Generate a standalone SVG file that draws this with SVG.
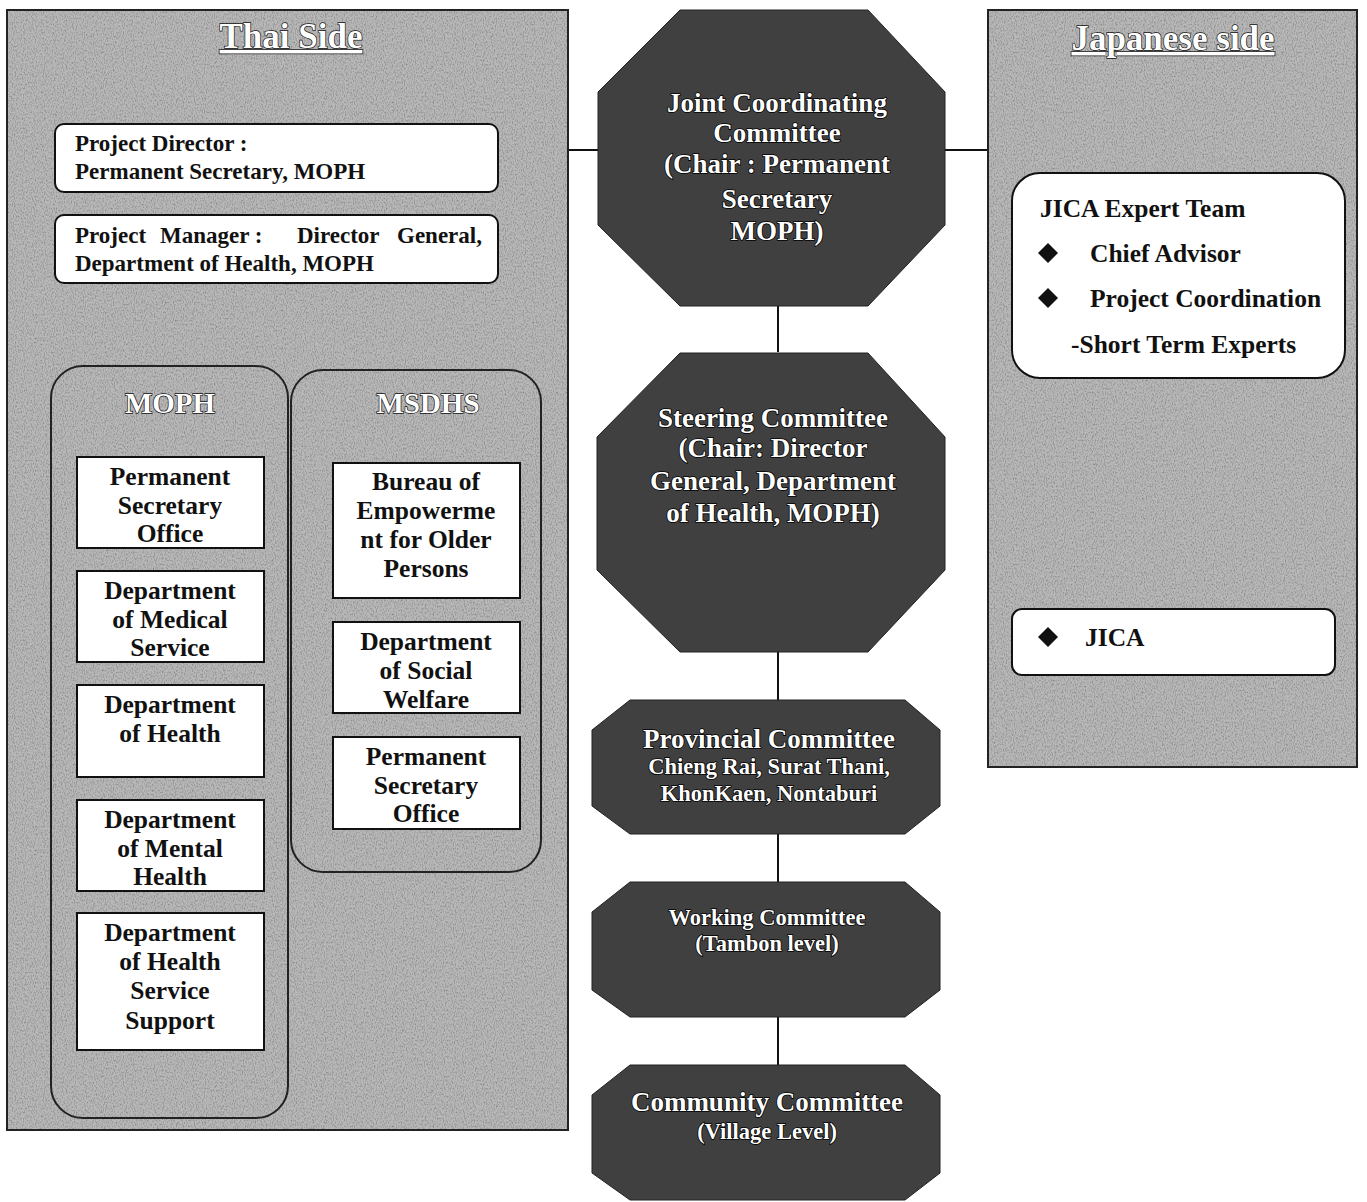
<svg xmlns="http://www.w3.org/2000/svg" width="1367" height="1202" viewBox="0 0 1367 1202">
<defs>
<filter id="grain" x="0" y="0" width="100%" height="100%">
<feTurbulence type="fractalNoise" baseFrequency="0.9 0.5" numOctaves="2" seed="3" result="n"/>
<feColorMatrix in="n" type="matrix" values="0 0 0 0 0  0 0 0 0 0  0 0 0 0 0  0 0 0 -2.2 1.25" result="a"/>
<feComposite in="SourceGraphic" in2="a" operator="in"/>
</filter>
<style>
.panel{fill:#b8b8b8;stroke:#222;stroke-width:2}
.cont{fill:none;stroke:#222;stroke-width:2}
.wbox{fill:#fff;stroke:#111;stroke-width:2}
.oct{fill:#404040;stroke:#222;stroke-width:1}
.t{font-family:"Liberation Serif","Times New Roman",serif;font-weight:bold;fill:#111}
.c{text-anchor:middle}
.b{font-size:25.5px}
.s{font-size:23px}
.title{font-family:"Liberation Serif","Times New Roman",serif;font-weight:bold;font-size:35px;fill:#fff;stroke:#111;stroke-width:1.4;paint-order:stroke;text-anchor:middle;text-decoration:underline}
.lab{font-family:"Liberation Serif","Times New Roman",serif;font-weight:bold;font-size:29px;fill:#fff;stroke:#111;stroke-width:1.4;paint-order:stroke;text-anchor:middle}
.ot{font-family:"Liberation Serif","Times New Roman",serif;font-weight:bold;font-size:27px;fill:#fff;stroke:#000;stroke-width:1.6;paint-order:stroke;text-anchor:middle}
.os{font-size:22.5px}
.line{stroke:#111;stroke-width:2;fill:none}
</style>
</defs>

<g id="connectors">
<line class="line" x1="568" y1="150" x2="600" y2="150"/>
<line class="line" x1="944" y1="150" x2="988" y2="150"/>
<line class="line" x1="778" y1="306" x2="778" y2="352"/>
<line class="line" x1="778" y1="652" x2="778" y2="700"/>
<line class="line" x1="778" y1="834" x2="778" y2="882"/>
<line class="line" x1="778" y1="1017" x2="778" y2="1065"/>
<line class="line" x1="1175" y1="378" x2="1175" y2="609"/>
</g>

<g id="thai-side">
<rect class="panel" x="7" y="10" width="561" height="1120"/>
<rect x="7" y="10" width="561" height="1120" fill="#666" filter="url(#grain)" opacity="0.6"/>
<rect x="7" y="10" width="561" height="1120" fill="none" stroke="#222" stroke-width="2"/>
<text class="title" x="291" y="48">Thai Side</text>
</g>

<g id="project-director">
<rect class="wbox" x="55" y="124" width="443" height="68" rx="9"/>
<text class="t s" x="75" y="151">Project Director :</text>
<text class="t s" x="75" y="179">Permanent Secretary, MOPH</text>
</g>

<g id="project-manager">
<rect class="wbox" x="55" y="215" width="443" height="68" rx="9"/>
<text class="t s" y="243"><tspan x="75">Project</tspan><tspan x="160">Manager :</tspan><tspan x="297">Director</tspan><tspan x="397">General,</tspan></text>
<text class="t s" x="75" y="271">Department of Health, MOPH</text>
</g>

<g id="moph">
<rect class="cont" x="51" y="366" width="237" height="752" rx="32"/>
<text class="lab" x="170" y="413">MOPH</text>
</g>

<g id="msdhs">
<rect class="cont" x="291" y="370" width="250" height="502" rx="32"/>
<text class="lab" x="428" y="413">MSDHS</text>
</g>

<g id="moph-permanent-secretary-office">
<rect class="wbox" x="77" y="457" width="187" height="91"/>
<text class="t b c" x="170" y="485">Permanent</text>
<text class="t b c" x="170" y="514">Secretary</text>
<text class="t b c" x="170" y="542">Office</text>
</g>
<g id="dept-medical-service">
<rect class="wbox" x="77" y="571" width="187" height="91"/>
<text class="t b c" x="170" y="599">Department</text>
<text class="t b c" x="170" y="628">of Medical</text>
<text class="t b c" x="170" y="656">Service</text>
</g>
<g id="dept-health">
<rect class="wbox" x="77" y="685" width="187" height="92"/>
<text class="t b c" x="170" y="713">Department</text>
<text class="t b c" x="170" y="742">of Health</text>
</g>
<g id="dept-mental-health">
<rect class="wbox" x="77" y="800" width="187" height="91"/>
<text class="t b c" x="170" y="828">Department</text>
<text class="t b c" x="170" y="857">of Mental</text>
<text class="t b c" x="170" y="885">Health</text>
</g>
<g id="dept-health-service-support">
<rect class="wbox" x="77" y="913" width="187" height="137"/>
<text class="t b c" x="170" y="941">Department</text>
<text class="t b c" x="170" y="970">of Health</text>
<text class="t b c" x="170" y="999">Service</text>
<text class="t b c" x="170" y="1029">Support</text>
</g>

<g id="bureau-empowerment">
<rect class="wbox" x="333" y="463" width="187" height="135"/>
<text class="t b c" x="426" y="490">Bureau of</text>
<text class="t b c" x="426" y="519">Empowerme</text>
<text class="t b c" x="426" y="548">nt for Older</text>
<text class="t b c" x="426" y="577">Persons</text>
</g>
<g id="dept-social-welfare">
<rect class="wbox" x="333" y="622" width="187" height="91"/>
<text class="t b c" x="426" y="650">Department</text>
<text class="t b c" x="426" y="679">of Social</text>
<text class="t b c" x="426" y="708">Welfare</text>
</g>
<g id="msdhs-permanent-secretary-office">
<rect class="wbox" x="333" y="737" width="187" height="92"/>
<text class="t b c" x="426" y="765">Permanent</text>
<text class="t b c" x="426" y="794">Secretary</text>
<text class="t b c" x="426" y="822">Office</text>
</g>

<g id="japanese-side">
<rect class="panel" x="988" y="10" width="369" height="757"/>
<rect x="988" y="10" width="369" height="757" fill="#666" filter="url(#grain)" opacity="0.6"/>
<rect x="988" y="10" width="369" height="757" fill="none" stroke="#222" stroke-width="2"/>
<text class="title" x="1173" y="50">Japanese side</text>
</g>

<g id="jica-expert-team">
<rect class="wbox" x="1012" y="173" width="333" height="205" rx="28"/>
<text class="t b" x="1040" y="217">JICA Expert Team</text>
<path d="M1048 243 l10 10 l-10 10 l-10 -10z" fill="#111"/>
<text class="t b" x="1090" y="262">Chief Advisor</text>
<path d="M1048 288 l10 10 l-10 10 l-10 -10z" fill="#111"/>
<text class="t b" x="1090" y="307">Project Coordination</text>
<text class="t b" x="1071" y="353">-Short Term Experts</text>
</g>

<g id="jica">
<rect class="wbox" x="1012" y="609" width="323" height="66" rx="10"/>
<path d="M1048 627 l10 10 l-10 10 l-10 -10z" fill="#111"/>
<text class="t b" x="1085" y="646">JICA</text>
</g>

<g id="joint-coordinating-committee">
<polygon class="oct" points="680,10 868,10 945,92 945,225 868,306 680,306 598,225 598,92"/>
<text class="ot" x="777" y="112">Joint Coordinating</text>
<text class="ot" x="777" y="142">Committee</text>
<text class="ot" x="777" y="173">(Chair : Permanent</text>
<text class="ot" x="777" y="208">Secretary</text>
<text class="ot" x="777" y="240">MOPH)</text>
</g>

<g id="steering-committee">
<polygon class="oct" points="680,353 868,353 945,437 945,570 868,652 680,652 597,570 597,437"/>
<text class="ot" x="773" y="427">Steering Committee</text>
<text class="ot" x="773" y="457">(Chair: Director</text>
<text class="ot" x="773" y="490">General, Department</text>
<text class="ot" x="773" y="522">of Health, MOPH)</text>
</g>

<g id="provincial-committee">
<polygon class="oct" points="630,700 905,700 940,730 940,806 905,834 630,834 592,806 592,730"/>
<text class="ot" x="769" y="748">Provincial Committee</text>
<text class="ot os" x="769" y="774">Chieng Rai, Surat Thani,</text>
<text class="ot os" x="769" y="801">KhonKaen, Nontaburi</text>
</g>

<g id="working-committee">
<polygon class="oct" points="630,882 905,882 940,912 940,990 905,1017 630,1017 592,990 592,912"/>
<text class="ot os" x="767" y="925">Working Committee</text>
<text class="ot os" x="767" y="951">(Tambon level)</text>
</g>

<g id="community-committee">
<polygon class="oct" points="630,1065 905,1065 940,1095 940,1173 905,1200 630,1200 592,1173 592,1095"/>
<text class="ot" x="767" y="1111">Community Committee</text>
<text class="ot os" x="767" y="1139">(Village Level)</text>
</g>
</svg>
